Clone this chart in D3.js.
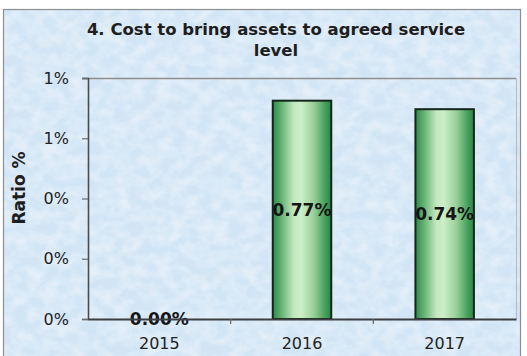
<!DOCTYPE html>
<html>
<head>
<meta charset="utf-8">
<script src="https://cdn.jsdelivr.net/npm/d3@7"></script>
<style>
  html, body { margin: 0; padding: 0; background: #fff; }
  svg { display: block; }
</style>
</head>
<body>
<script>
// Chart data
const years = ["2015", "2016", "2017"];
const ratios = [0.00, 0.77, 0.74];          // percent values shown on the bars
const ratioLabels = ["0.00%", "0.77%", "0.74%"];
const yTicks = [0, 0.2125, 0.425, 0.6375, 0.85];
const titleLines = ["4. Cost to bring assets to agreed service", "level"];
const yAxisTitle = "Ratio %";

const W = 527, H = 356;
const plot = { left: 88, right: 516, top: 78, bottom: 319 };
const FONT = "DejaVu Sans, Verdana, sans-serif";

const svg = d3.select("body").append("svg")
  .attr("width", W).attr("height", H);

const defs = svg.append("defs");

// mottled paper texture for the chart background
const f = defs.append("filter").attr("id", "paper")
  .attr("x", 0).attr("y", 0).attr("width", "100%").attr("height", "100%");
f.append("feTurbulence").attr("type", "fractalNoise")
  .attr("baseFrequency", "0.07 0.09").attr("numOctaves", 3).attr("seed", 7).attr("result", "n");
f.append("feColorMatrix").attr("in", "n").attr("type", "matrix")
  .attr("values", "0 0 0 0 1  0 0 0 0 1  0 0 0 0 1  2.4 0 0 0 -0.8");

// bar fill: cylinder-like horizontal green gradient
const g = defs.append("linearGradient").attr("id", "barFill")
  .attr("x1", "0%").attr("x2", "100%").attr("y1", "0%").attr("y2", "0%");
[["0%", "#2c8a4a"], ["12%", "#5aac6a"], ["36%", "#c3e8c0"], ["48%", "#cdeec8"],
 ["70%", "#98d098"], ["88%", "#4ca361"], ["100%", "#2a8547"]]
  .forEach(([o, c]) => g.append("stop").attr("offset", o).attr("stop-color", c));

// chart frame
const frame = { x: 3.5, y: 9.5, w: 517, h: 360 };
svg.append("rect").attr("x", frame.x).attr("y", frame.y).attr("width", frame.w).attr("height", frame.h)
  .attr("fill", "#d2e5f5");
svg.append("rect").attr("x", frame.x).attr("y", frame.y).attr("width", frame.w).attr("height", frame.h)
  .attr("fill", "#fff").attr("opacity", 0.38).attr("filter", "url(#paper)");
svg.append("rect").attr("x", frame.x).attr("y", frame.y).attr("width", frame.w).attr("height", frame.h)
  .attr("fill", "none").attr("stroke", "#8a8f94").attr("stroke-width", 1.2);

// scales
const x = d3.scaleBand().domain(years).range([plot.left, plot.right])
  .paddingInner(0.59).paddingOuter(0.295);
const y = d3.scaleLinear().domain([0, 0.85]).range([plot.bottom, plot.top]);

// plot border lines (top and right)
svg.append("line").attr("x1", plot.left - 6).attr("x2", plot.right)
  .attr("y1", y(0.85) + 0.5).attr("y2", y(0.85) + 0.5)
  .attr("stroke", "#8e8e8e").attr("stroke-width", 1.5);
svg.append("line").attr("x1", plot.right + 0.5).attr("x2", plot.right + 0.5)
  .attr("y1", plot.top).attr("y2", plot.bottom)
  .attr("stroke", "#b9bec4").attr("stroke-width", 1.2);

// bars
const bars = svg.append("g");
years.forEach((yr, i) => {
  const bx = x(yr), bw = x.bandwidth(), by = y(ratios[i]), bh = y(0) - y(ratios[i]);
  if (bh > 0) {
    defs.append("clipPath").attr("id", "clip" + i)
      .append("rect").attr("x", bx).attr("y", by).attr("width", bw).attr("height", bh);
    bars.append("rect").attr("x", bx).attr("y", by).attr("width", bw).attr("height", bh)
      .attr("fill", "url(#barFill)").attr("stroke", "#14261a").attr("stroke-width", 2);
  }
});

// value labels, centred in each bar
years.forEach((yr, i) => {
  const cx = x(yr) + x.bandwidth() / 2;
  const cy = (y(ratios[i]) + y(0)) / 2;
  const t = svg.append("text").attr("x", cx).attr("y", cy).attr("dy", "0.36em")
    .attr("text-anchor", "middle")
    .attr("font-family", FONT)
    .attr("font-weight", "bold").attr("font-size", 17).attr("fill", "#151515")
    .text(ratioLabels[i]);
  if (y(0) - y(ratios[i]) > 0) t.attr("clip-path", `url(#clip${i})`);
});

// y axis
const yAxis = d3.axisLeft(y).tickValues(yTicks).tickSize(6).tickPadding(13)
  .tickFormat(v => d3.format(".0f")(v) + "%");
const ya = svg.append("g").attr("transform", `translate(${plot.left},0)`).call(yAxis);
ya.select(".domain").attr("stroke", "#4a4d50").attr("stroke-width", 1.6);
ya.selectAll(".tick line").attr("stroke", "#6a6d70").attr("stroke-width", 1.2);
ya.selectAll(".tick text").attr("font-family", FONT)
  .attr("font-size", 16).attr("fill", "#222");

// x axis (drawn over the zero-value label)
const xAxis = d3.axisBottom(x).tickSize(0).tickPadding(19);
const xa = svg.append("g").attr("transform", `translate(0,${plot.bottom})`).call(xAxis);
xa.select(".domain").attr("stroke", "#3c3f42").attr("stroke-width", 2);
xa.selectAll(".tick text").attr("font-family", FONT)
  .attr("font-size", 16).attr("fill", "#222");

// category separator ticks
years.slice(0, years.length - 1).forEach((yr, i) => {
  const sx = (x(yr) + x.bandwidth() + x(years[i + 1])) / 2;
  svg.append("line").attr("x1", sx).attr("x2", sx)
    .attr("y1", plot.bottom).attr("y2", plot.bottom + 5)
    .attr("stroke", "#666").attr("stroke-width", 1.2);
});

// title
svg.append("text").attr("text-anchor", "middle")
  .attr("font-family", FONT)
  .attr("font-weight", "bold").attr("font-size", 16.5).attr("fill", "#1e1e1e")
  .selectAll("tspan").data(titleLines).join("tspan")
  .attr("x", 276).attr("y", (d, i) => 35 + i * 21).text(d => d);

// y axis title
svg.append("text")
  .attr("transform", "translate(25,188) rotate(-90)")
  .attr("text-anchor", "middle")
  .attr("font-family", FONT)
  .attr("font-weight", "bold").attr("font-size", 17).attr("fill", "#1e1e1e")
  .text(yAxisTitle);
</script>
</body>
</html>
